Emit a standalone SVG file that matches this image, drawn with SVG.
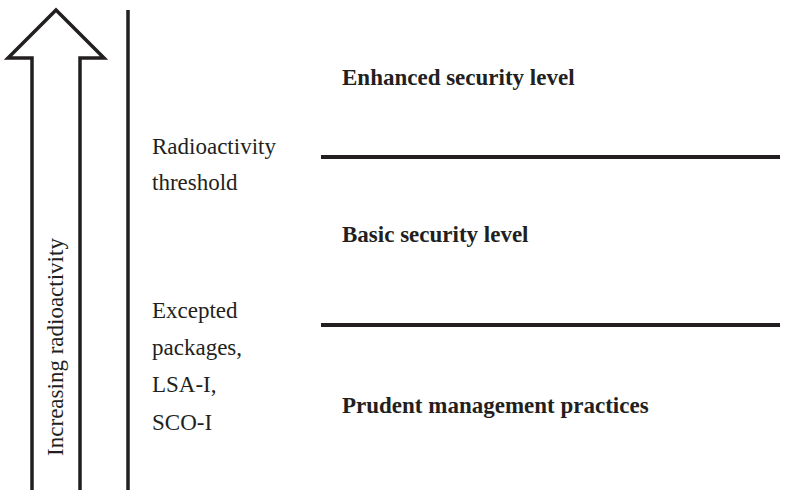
<svg xmlns="http://www.w3.org/2000/svg" width="795" height="490" viewBox="0 0 795 490">
<style>
.ln{stroke:#231f20;fill:none;stroke-width:3.5}
.hl{stroke:#231f20;fill:none;stroke-width:4}
.t{font-family:"Liberation Serif","Times New Roman",serif;font-size:23px;fill:#231f20}
.b{font-family:"Liberation Serif","Times New Roman",serif;font-size:23px;font-weight:bold;fill:#231f20}
</style>
<rect width="795" height="490" fill="#ffffff"/>
<g id="arrow">
<path class="ln" d="M32,492 V58 H8 L56,10 L104,58 H80 V492" stroke-linejoin="miter"/>
<text class="t" transform="translate(63,347) rotate(-90)" text-anchor="middle">Increasing radioactivity</text>
</g>
<g id="connectors">
<line class="ln" x1="128" y1="10" x2="128" y2="492"/>
<line class="hl" x1="321" y1="157" x2="780" y2="157"/>
<line class="hl" x1="321" y1="325" x2="780" y2="325"/>
</g>
<g id="enhanced">
<text class="b" x="342" y="85">Enhanced security level</text>
</g>
<g id="threshold">
<text class="t" x="152" y="154">Radioactivity</text>
<text class="t" x="152" y="190">threshold</text>
</g>
<g id="basic">
<text class="b" x="342" y="242">Basic security level</text>
</g>
<g id="excepted">
<text class="t" x="152" y="318">Excepted</text>
<text class="t" x="152" y="355">packages,</text>
<text class="t" x="152" y="392">LSA-I,</text>
<text class="t" x="152" y="430">SCO-I</text>
</g>
<g id="prudent">
<text class="b" x="342" y="413">Prudent management practices</text>
</g>
</svg>
